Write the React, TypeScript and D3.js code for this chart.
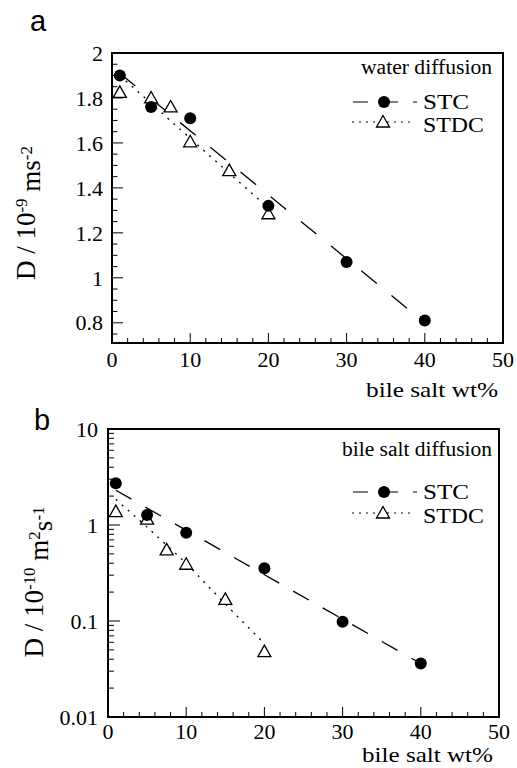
import React from "react";
import * as d3 from "d3";

// ---------- data ----------
const xMajorTicks = [0, 10, 20, 30, 40, 50];
const xTickLabels = ["0", "10", "20", "30", "40", "50"];

// panel a: water diffusion (10^-9 m^2/s)
const stcX = [1, 5, 10, 20, 30, 40];
const stcWater = [1.9, 1.76, 1.71, 1.32, 1.07, 0.81];
const stdcX = [1, 5, 7.5, 10, 15, 20];
const stdcWater = [1.825, 1.8, 1.76, 1.605, 1.477, 1.285];
const stcWaterFitX = [1, 40];
const stcWaterFitY = [1.91, 0.8];
const stdcWaterFitX = [1, 20];
const stdcWaterFitY = [1.9, 1.31];
const topYTicks = [0.8, 1, 1.2, 1.4, 1.6, 1.8, 2];
const topYTickLabels = ["0.8", "1", "1.2", "1.4", "1.6", "1.8", "2"];

// panel b: bile salt diffusion (10^-10 m^2/s)
const stcBile = [2.72, 1.27, 0.83, 0.355, 0.098, 0.036];
const stdcBile = [1.38, 1.15, 0.55, 0.39, 0.168, 0.048];
const stcBileFitX = [1, 40];
const stcBileFitY = [2.3, 0.036];
const stdcBileFitX = [1, 5, 10, 15, 20];
const stdcBileFitY = [1.85, 0.95, 0.4, 0.15, 0.058];
const botYTicks = [0.01, 0.1, 1, 10];
const botYTickLabels = ["0.01", "0.1", "1", "10"];

const serif = "Liberation Serif, Tinos, Times New Roman, Times, Nimbus Roman, Nimbus Roman No9 L, FreeSerif, Noto Serif, DejaVu Serif, serif";
const sans = "Liberation Sans, Arial, sans-serif";

type Pt = [number, number];
const zip = (xs: number[], ys: number[]): Pt[] => xs.map((x, i) => [x, ys[i]]);

function Circle({ cx, cy }: { cx: number; cy: number }) {
  return <circle cx={cx} cy={cy} r={6} fill="#000" />;
}
function Tri({ cx, cy }: { cx: number; cy: number }) {
  const p = `${cx - 6.5},${cy + 5} ${cx + 6.5},${cy + 5} ${cx},${cy - 6.5}`;
  return <polygon points={p} fill="#fff" stroke="#000" strokeWidth={1.3} />;
}

const S = (size: number, extra: React.CSSProperties = {}): React.CSSProperties => ({ fontFamily: serif, fontSize: size, ...extra });

function Legend({ title, titleY, titleLen, x0, yStc, yStdc }: { title: string; titleY: number; titleLen: number; x0: number; yStc: number; yStdc: number }) {
  return (
    <g>
      <text x={492 - titleLen} y={titleY} style={S(20)} textLength={titleLen} lengthAdjust="spacingAndGlyphs">{title}</text>
      <line x1={353} x2={417} y1={yStc} y2={yStc} stroke="#000" strokeWidth={1.2} strokeDasharray="15 15" />
      <Circle cx={384} cy={yStc} />
      <text x={x0} y={yStc + 7} style={S(21)} textLength={46} lengthAdjust="spacingAndGlyphs">STC</text>
      <line x1={352} x2={413} y1={yStdc} y2={yStdc} stroke="#000" strokeWidth={1.2} strokeDasharray="2 5" />
      <Tri cx={383} cy={yStdc} />
      <text x={x0} y={yStdc + 10} style={S(21)} textLength={61} lengthAdjust="spacingAndGlyphs">STDC</text>
    </g>
  );
}

export default function App() {
  // ---- panel a ----
  const xa = d3.scaleLinear().domain([0, 50]).range([112, 503]);
  const ya = d3.scaleLinear().domain([0.71, 2]).range([343, 53]);
  // ---- panel b ----
  const xb = d3.scaleLinear().domain([0, 50]).range([108, 499]);
  const yb = d3.scaleLog().domain([0.01, 10]).range([717, 429]);

  const lineA = d3.line<Pt>().x((d) => xa(d[0])).y((d) => ya(d[1]));
  const lineB = d3.line<Pt>().x((d) => xb(d[0])).y((d) => yb(d[1]));

  const xMinor = d3.range(0, 50.01, 2);
  const yaMinor = d3.range(0.75, 2.001, 0.05);
  const ybMinor: number[] = [];
  [0.01, 0.1, 1].forEach((dec) => {
    for (let k = 2; k <= 9; k++) ybMinor.push(dec * k);
  });

  const frame = (x: d3.ScaleLinear<number, number>, y: any, yBottom: number) => {
    const [x0, x1] = x.range();
    const yTop = y.range()[1];
    return <rect x={x0} y={yTop} width={x1 - x0} height={yBottom - yTop} fill="none" stroke="#000" strokeWidth={2} />;
  };

  return (
    <svg width={517} height={768} style={{ position: "absolute", left: 0, top: 0, background: "#fff" }}>
      <rect width={517} height={768} fill="#fff" />
      {/* ================= panel a ================= */}
      <text x={30} y={31} style={{ fontFamily: sans, fontSize: 29 }}>a</text>
      {xMinor.map((v) => (
        <line key={"xam" + v} x1={xa(v)} x2={xa(v)} y1={343} y2={343 - (v % 10 === 0 ? 10 : 5)} stroke="#000" strokeWidth={1} />
      ))}
      {yaMinor.map((v) => {
        const major = Math.abs(Math.round(v * 5) - v * 5) < 1e-6;
        return <line key={"yam" + v} x1={112} x2={112 + (major ? 11 : 5.5)} y1={ya(v)} y2={ya(v)} stroke="#000" strokeWidth={1} />;
      })}
      {frame(xa, ya, 343)}
      {topYTicks.map((v, i) => (
        <text key={"yal" + v} x={103} y={ya(v)} dy="0.35em" textAnchor="end" style={S(22)}>{topYTickLabels[i]}</text>
      ))}
      {xMajorTicks.map((v, i) => (
        <text key={"xal" + v} x={xa(v)} y={359} dy="0.35em" textAnchor="middle" style={S(22)}>{xTickLabels[i]}</text>
      ))}
      <text x={366} y={397} style={S(22)} textLength={132} lengthAdjust="spacingAndGlyphs">bile salt wt%</text>
      <text transform="translate(35,213) rotate(-90)" textAnchor="middle" style={S(27)}>
        D / 10<tspan dy="-0.45em" style={{ fontSize: 17 }}>-9</tspan><tspan dy="0.45em"> ms</tspan><tspan dy="-0.45em" style={{ fontSize: 17 }}>-2</tspan>
      </text>
      <path d={lineA(zip(stcWaterFitX, stcWaterFitY)) || ""} fill="none" stroke="#000" strokeWidth={1.3} strokeDasharray="20 19" />
      <path d={lineA(zip(stdcWaterFitX, stdcWaterFitY)) || ""} fill="none" stroke="#000" strokeWidth={1.3} strokeDasharray="2 6" />
      {stdcX.map((x, i) => <Tri key={"ta" + i} cx={xa(x)} cy={ya(stdcWater[i])} />)}
      {stcX.map((x, i) => <Circle key={"ca" + i} cx={xa(x)} cy={ya(stcWater[i])} />)}
      <Legend title="water diffusion" titleY={74} titleLen={131} x0={423} yStc={102} yStdc={122} />

      {/* ================= panel b ================= */}
      <text x={34} y={430} style={{ fontFamily: sans, fontSize: 29 }}>b</text>
      {xMinor.map((v) => (
        <line key={"xbm" + v} x1={xb(v)} x2={xb(v)} y1={717} y2={717 - (v % 10 === 0 ? 10 : 5)} stroke="#000" strokeWidth={1} />
      ))}
      {ybMinor.map((v) => (
        <line key={"ybm" + v} x1={108} x2={114} y1={yb(v)} y2={yb(v)} stroke="#000" strokeWidth={1} />
      ))}
      {botYTicks.map((v) => (
        <line key={"ybM" + v} x1={108} x2={120} y1={yb(v)} y2={yb(v)} stroke="#000" strokeWidth={1} />
      ))}
      {frame(xb, yb, 717)}
      {botYTicks.map((v, i) => (
        <text key={"ybl" + v} x={98} y={yb(v)} dy="0.35em" textAnchor="end" style={S(22)}>{botYTickLabels[i]}</text>
      ))}
      {xMajorTicks.map((v, i) => (
        <text key={"xbl" + v} x={xb(v)} y={731} dy="0.35em" textAnchor="middle" style={S(22)}>{xTickLabels[i]}</text>
      ))}
      <text x={362} y={762} style={S(21)} textLength={131} lengthAdjust="spacingAndGlyphs">bile salt wt%</text>
      <text transform="translate(43,582) rotate(-90)" textAnchor="middle" style={S(27)}>
        D / 10<tspan dy="-0.45em" style={{ fontSize: 17 }}>-10</tspan><tspan dy="0.45em"> m</tspan><tspan dy="-0.45em" style={{ fontSize: 17 }}>2</tspan><tspan dy="0.45em">s</tspan><tspan dy="-0.45em" style={{ fontSize: 17 }}>-1</tspan>
      </text>
      <path d={lineB(zip(stcBileFitX, stcBileFitY)) || ""} fill="none" stroke="#000" strokeWidth={1.3} strokeDasharray="18 16" />
      <path d={lineB(zip(stdcBileFitX, stdcBileFitY)) || ""} fill="none" stroke="#000" strokeWidth={1.3} strokeDasharray="2 6" />
      {stdcX.map((x, i) => <Tri key={"tb" + i} cx={xb(x)} cy={yb(stdcBile[i])} />)}
      {stcX.map((x, i) => <Circle key={"cb" + i} cx={xb(x)} cy={yb(stcBile[i])} />)}
      <Legend title="bile salt diffusion" titleY={456} titleLen={150} x0={423} yStc={492} yStdc={513} />
    </svg>
  );
}
